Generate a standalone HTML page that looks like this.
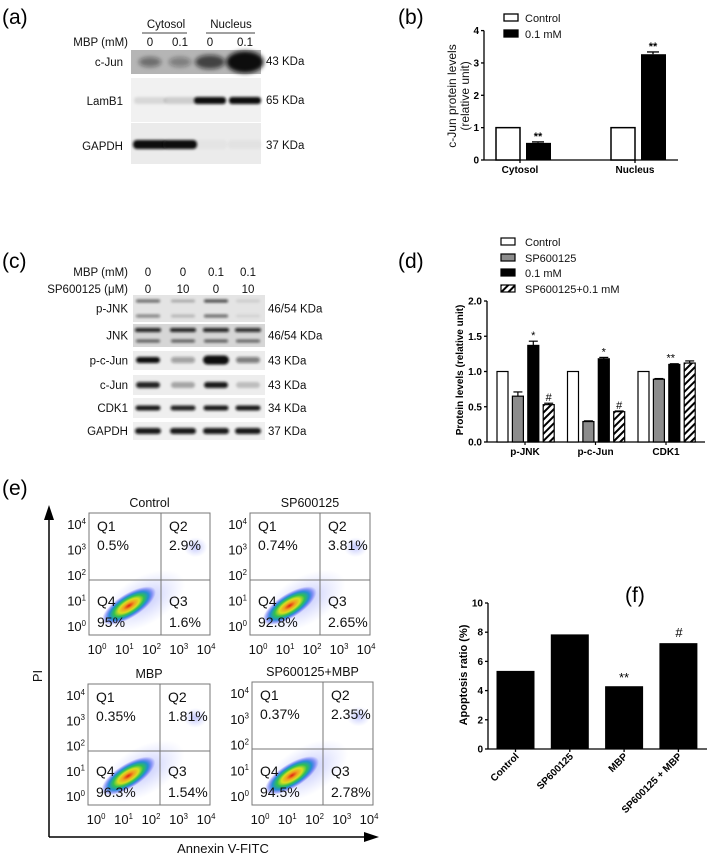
<!DOCTYPE html>
<html><head><meta charset="utf-8"><style>
html,body{margin:0;padding:0;background:#fff;}
svg{display:block;font-family:"Liberation Sans",Arial,sans-serif;}
</style></head><body>
<svg id="fig" width="709" height="855" viewBox="0 0 709 855" xmlns="http://www.w3.org/2000/svg">
<defs>
<filter id="blur1" x="-20%" y="-100%" width="140%" height="300%"><feGaussianBlur stdDeviation="1.2"/></filter>
<filter id="blur2" x="-20%" y="-100%" width="140%" height="300%"><feGaussianBlur stdDeviation="2.2"/></filter>
<pattern id="hatch" width="5" height="5" patternUnits="userSpaceOnUse" patternTransform="rotate(45)"><rect width="5" height="5" fill="#fff"/><rect width="2" height="5" fill="#000"/></pattern>
<radialGradient id="cloud" cx="50%" cy="50%" r="50%">
<stop offset="0" stop-color="#e02010"/><stop offset="0.2" stop-color="#f0a020"/><stop offset="0.38" stop-color="#d8e020"/><stop offset="0.55" stop-color="#30c050"/><stop offset="0.72" stop-color="#2090d0"/><stop offset="0.88" stop-color="#3040f0" stop-opacity="0.4"/><stop offset="1" stop-color="#4050ff" stop-opacity="0"/>
</radialGradient>
<radialGradient id="sparse" cx="50%" cy="50%" r="50%"><stop offset="0" stop-color="#3040f0" stop-opacity="0.3"/><stop offset="1" stop-color="#6070ff" stop-opacity="0"/></radialGradient>
</defs>
<g id="root"></g>
</svg>
<script>
// ---------- data ----------
const bCategories = ["Cytosol","Nucleus"];
const bControl = [1, 1];
const bTreated = [0.53, 3.27];
const bTreatedErr = [0.03, 0.07];
const bTicks = [0,1,2,3,4];

const dCategories = ["p-JNK","p-c-Jun","CDK1"];
const dControl = [1, 1, 1];
const dSP = [0.65, 0.29, 0.89];
const dSPErr = [0.06, 0.01, 0.01];
const dMBP = [1.37, 1.18, 1.10];
const dMBPErr = [0.06, 0.02, 0.01];
const dCombo = [0.53, 0.43, 1.12];
const dComboErr = [0.02, 0.01, 0.03];
const dTicks = [0,0.5,1.0,1.5,2.0];
const dTickLabels = ["0.0","0.5","1.0","1.5","2.0"];

const fCategories = ["Control","SP600125","MBP","SP600125 + MBP"];
const fValues = [5.35, 7.85, 4.3, 7.25];
const fTicks = [0,2,4,6,8,10];

const flowTitles = ["Control","SP600125","MBP","SP600125+MBP"];
const flowQ1 = ["0.5%","0.74%","0.35%","0.37%"];
const flowQ2 = ["2.9%","3.81%","1.81%","2.35%"];
const flowQ3 = ["1.6%","2.65%","1.54%","2.78%"];
const flowQ4 = ["95%","92.8%","96.3%","94.5%"];

const NS="http://www.w3.org/2000/svg";
const root=document.getElementById('root');
function el(tag,attrs,parent,text){const e=document.createElementNS(NS,tag);for(const k in attrs)e.setAttribute(k,attrs[k]);if(text!==undefined)e.textContent=text;(parent||root).appendChild(e);return e;}
function txt(x,y,s,size,opts,parent){const o=Object.assign({x:x,y:y,'font-size':size,fill:'#111'},opts||{});return el('text',o,parent,s);}
function line(x1,y1,x2,y2,w,parent){return el('line',{x1,y1,x2,y2,stroke:'#000','stroke-width':w||1},parent);}

// panel labels
[["(a)",2,24],["(b)",398,24],["(c)",2,268],["(d)",398,268],["(e)",2,495],["(f)",625,602]].forEach(p=>{
  const t=txt(p[1],p[2],p[0],21,{fill:'#000'});
  
  
});

// ---------- (a) blot ----------
const ga=el('g',{});


txt(166,28,"Cytosol",11.5,{'text-anchor':'middle'},ga);
txt(231,28,"Nucleus",11.5,{'text-anchor':'middle'},ga);
line(142,33,187,33,0.8,ga);line(206,33,255,33,0.8,ga);
txt(128,46,"MBP (mM)",11.5,{'text-anchor':'end'},ga);
const laneA=[150,180,210,245];
["0","0.1","0","0.1"].forEach((s,i)=>txt(laneA[i],46,s,11.5,{'text-anchor':'middle'},ga));
el('rect',{x:131,y:50,width:130,height:24,fill:'#b5b5b5'},ga);
el('rect',{x:131,y:78,width:130,height:44,fill:'#f1f1f1'},ga);
el('rect',{x:131,y:123,width:130,height:41,fill:'#ebebeb'},ga);
[[150,0.45,18,5],[180,0.35,18,5],[210,0.7,24,7],[245,1,30,11]].forEach(b=>el('ellipse',{cx:b[0],cy:62,rx:b[2]/1.6,ry:b[3],fill:'#111','fill-opacity':b[1],filter:'url(#blur2)'},ga));
[[150,0.1],[180,0.15],[210,1],[245,1]].forEach(b=>el('rect',{x:b[0]-16,y:97,width:32,height:7,rx:3,fill:'#111','fill-opacity':b[1],filter:'url(#blur1)'},ga));
[[150,1],[180,1],[210,0.03],[245,0.04]].forEach(b=>el('rect',{x:b[0]-17,y:140,width:34,height:9,rx:4,fill:'#111','fill-opacity':b[1],filter:'url(#blur1)'},ga));
[["c-Jun",66],["LamB1",105],["GAPDH",150]].forEach(r=>txt(123,r[1],r[0],11.5,{'text-anchor':'end'},ga));
[["43 KDa",65],["65 KDa",104],["37 KDa",149]].forEach(r=>txt(266,r[1],r[0],11.5,{},ga));

// ---------- (c) blot ----------
const gc=el('g',{});


const laneC=[148,183,216,248];
txt(128,276,"MBP (mM)",11.5,{'text-anchor':'end'},gc);
txt(128,293,"SP600125 (\u03bcM)",11.5,{'text-anchor':'end'},gc);
["0","0","0.1","0.1"].forEach((s,i)=>txt(laneC[i],276,s,11.5,{'text-anchor':'middle'},gc));
["0","10","0","10"].forEach((s,i)=>txt(laneC[i],293,s,11.5,{'text-anchor':'middle'},gc));
const rowsC=[["p-JNK",295,322,"#e4e4e4","46/54 KDa"],["JNK",324,347,"#d6d6d6","46/54 KDa"],["p-c-Jun",351,370,"#ececec","43 KDa"],["c-Jun",375,395,"#ededed","43 KDa"],["CDK1",398,418,"#efefef","34 KDa"],["GAPDH",422,440,"#f0f0f0","37 KDa"]];
rowsC.forEach(r=>{el('rect',{x:133,y:r[1],width:132,height:r[2]-r[1],fill:r[3]},gc);txt(128,(r[1]+r[2])/2+4,r[0],11.5,{'text-anchor':'end'},gc);txt(268,(r[1]+r[2])/2+4,r[4],11.5,{},gc);});
function band(g,cx,cy,w,h,op){el('rect',{x:cx-w/2,y:cy-h/2,width:w,height:h,rx:h/2,fill:'#111','fill-opacity':op,filter:'url(#blur1)'},g);}
[0.6,0.25,0.75,0.1].forEach((o,i)=>{band(gc,laneC[i],301,24,3,o);band(gc,laneC[i],316,24,3,o*0.8);});
[0.9,0.9,0.9,0.85].forEach((o,i)=>{band(gc,laneC[i],330,26,4,o);band(gc,laneC[i],341,24,3,o*0.7);});
[1,0.35,1,0.5].forEach((o,i)=>band(gc,laneC[i],360,i==2?26:24,i==2?9:6,o));
[0.9,0.3,0.95,0.2].forEach((o,i)=>band(gc,laneC[i],385,24,6,o));
[0.95,0.9,0.95,0.95].forEach((o,i)=>band(gc,laneC[i],408,25,5,o));
[0.95,0.95,0.95,0.95].forEach((o,i)=>band(gc,laneC[i],431,26,6,o));

function yAxis(g,x,yScale,ticks,labels,fs){
  line(x,yScale(ticks[0]),x,yScale(ticks[ticks.length-1]),1.3,g);
  ticks.forEach((t,i)=>{const y=yScale(t);line(x-3,y,x,y,1.3,g);txt(x-5,y+3.5,labels?labels[i]:String(t),fs||10,{'text-anchor':'end','font-weight':'bold',fill:'#000'},g);});
}

// ---------- (b) ----------
const gb=el('g',{});


const bY=v=>160-v*32.35;
const bX0=484, bGroup=[514,629];
yAxis(gb,bX0,bY,bTicks);
line(bX0,160,678,160,1.3,gb);
bCategories.forEach((c,i)=>{
  const cx=bGroup[i];
  const r1=el('rect',{x:cx-12-6,y:bY(bControl[i]),width:24,height:160-bY(bControl[i]),fill:'#fff',stroke:'#000','stroke-width':1.5},gb);
  
  
  const x2=cx+24;
  const r2=el('rect',{x:x2-12,y:bY(bTreated[i]),width:25,height:160-bY(bTreated[i]),fill:'#000'},gb);
  
  
  const ye=bY(bTreated[i]+bTreatedErr[i]);
  line(x2-6,ye,x2+6,ye,1.3,gb);line(x2,ye,x2,bY(bTreated[i]),1.3,gb);
  txt(x2,ye-2,"**",11,{'text-anchor':'middle','font-weight':'bold',fill:'#000'},gb);
  line(cx+6,160,cx+6,163,1.3,gb);
  txt(cx+6,173,c,10,{'text-anchor':'middle','font-weight':'bold',fill:'#000'},gb);
});
el('rect',{x:504,y:14,width:14,height:7,fill:'#fff',stroke:'#000','stroke-width':1.3},gb);
el('rect',{x:504,y:30,width:14,height:7,fill:'#000',stroke:'#000','stroke-width':1.3},gb);
txt(525,22,"Control",11,{},gb);txt(525,38,"0.1 mM",11,{},gb);
txt(0,0,"c-Jun protein levels",12,{transform:'translate(456,96) rotate(-90)','text-anchor':'middle'},gb);
txt(0,0,"(relative unit)",12,{transform:'translate(469,96) rotate(-90)','text-anchor':'middle'},gb);

// ---------- (d) ----------
const gd=el('g',{});


const dY=v=>442-v*70.5;
const dX0=487;
yAxis(gd,dX0,dY,dTicks,dTickLabels);
line(dX0,442,705,442,1.3,gd);
const dSeries=[[dControl,null,'#fff','control'],[dSP,dSPErr,'#8c8c8c','sp600125'],[dMBP,dMBPErr,'#000','mbp'],[dCombo,dComboErr,'url(#hatch)','combo']];
const dMarks=[[],[],["*","*","**"],["#","#",""]];
dCategories.forEach((c,i)=>{
  const gx=497+i*70.5;
  dSeries.forEach((s,j)=>{
    const x=gx+j*15.4, v=s[0][i];
    const r=el('rect',{x:x,y:dY(v),width:11,height:442-dY(v),fill:s[2],stroke:'#000','stroke-width':1.2},gd);
    
    
    let top=dY(v);
    if(s[1]){const ye=dY(v+s[1][i]);line(x+1,ye,x+10,ye,1.2,gd);line(x+5.5,ye,x+5.5,dY(v),1.2,gd);top=ye;}
    const m=dMarks[j][i];
    if(m){const mx = m=="**" ? x+2 : x+5.5;txt(mx,top-2,m,11,{'text-anchor':'middle',fill:'#000'},gd);}
  });
  const cx=gx+28;
  line(cx,442,cx,445,1.2,gd);
  txt(cx,455,c,10,{'text-anchor':'middle','font-weight':'bold',fill:'#000'},gd);
});
[["Control",'#fff',242],["SP600125",'#8c8c8c',258],["0.1 mM",'#000',273],["SP600125+0.1 mM",'url(#hatch)',289]].forEach(l=>{
  el('rect',{x:501,y:l[2]-4,width:14,height:7,fill:l[1],stroke:'#000','stroke-width':1.2},gd);
  txt(525,l[2]+4,l[0],11,{},gd);
});
txt(0,0,"Protein levels (relative unit)",10,{transform:'translate(463,370) rotate(-90)','text-anchor':'middle','font-weight':'bold',fill:'#000'},gd);

// ---------- (f) ----------
const gf=el('g',{});


const fY=v=>749-v*14.6;
const fX0=488;
yAxis(gf,fX0,fY,fTicks);
line(fX0,749,707,749,1.3,gf);
fCategories.forEach((c,i)=>{
  const cx=515.5+i*54.3;
  const r=el('rect',{x:cx-19,y:fY(fValues[i]),width:38,height:749-fY(fValues[i]),fill:'#000'},gf);
  
  
  line(cx,749,cx,752,1.3,gf);
  txt(0,0,c,10,{transform:'translate('+(cx+4)+',757) rotate(-45)','text-anchor':'end','font-weight':'bold',fill:'#000'},gf);
});
txt(624,fY(fValues[2])-4,"**",13,{'text-anchor':'middle',fill:'#000'},gf);
txt(679,fY(fValues[3])-6,"#",13,{'text-anchor':'middle',fill:'#000'},gf);
txt(0,0,"Apoptosis ratio (%)",11,{transform:'translate(467,675) rotate(-90)','text-anchor':'middle','font-weight':'bold',fill:'#000'},gf);

// ---------- (e) flow plots ----------
const ge=el('g',{});


const plots=[[89,513,121,122,161,580],[250,513,120,122,320,580],[88,684,122,121,160,751],[252,682,121,123,323,749]];
function sup(g,x,y,base,exp,fs,anchor){const t=txt(x,y,'',fs,{'text-anchor':anchor||'start'},g);el('tspan',{},t,base);el('tspan',{'font-size':fs*0.6,dy:-fs*0.4},t,exp);return t;}
plots.forEach((p,i)=>{
  const [x,y,w,h,gx,gy]=p;
  const g=el('g',{},ge);
  
  
  el('ellipse',{cx:x+w*0.88,cy:y+h*0.28,rx:12,ry:10,fill:'url(#sparse)'},g);
  el('ellipse',{cx:x+w*0.45,cy:y+h*0.72,rx:46,ry:24,fill:'url(#sparse)',transform:'rotate(-30 '+(x+w*0.45)+' '+(y+h*0.72)+')'},g);
  const cx=x+w*0.33, cy=y+h*0.76;
  el('ellipse',{cx:cx,cy:cy,rx:31,ry:12,fill:'url(#cloud)',transform:'rotate(-32 '+cx+' '+cy+')'},g);
  el('rect',{x:x,y:y,width:w,height:h,fill:'none',stroke:'#777','stroke-width':1},g);
  line(gx,y,gx,y+h,1,g).setAttribute('stroke','#777');
  line(x,gy,x+w,gy,1,g).setAttribute('stroke','#777');
  txt(x+w/2,y-6,flowTitles[i],12.5,{'text-anchor':'middle'},g);
  txt(x+8,y+18,"Q1",14,{},g);txt(x+8,y+37,flowQ1[i],14,{},g);
  txt(gx+8,y+18,"Q2",14,{},g);txt(gx+8,y+37,flowQ2[i],14,{},g);
  txt(x+8,y+h-29,"Q4",14,{},g);txt(x+8,y+h-8,flowQ4[i],14,{},g);
  txt(gx+8,y+h-29,"Q3",14,{},g);txt(gx+8,y+h-8,flowQ3[i],14,{},g);
  [4,3,2,1,0].forEach((e,k)=>{const ty=y+12+k*(h-20)/4+4;sup(g,x-3,ty,"10",String(e),13,'end');});
  [0,1,2,3,4].forEach((e,k)=>{const tx=x+8+k*(w-12)/4;sup(g,tx,y+h+19,"10",String(e),13,'middle');});
});
line(49,837,49,515,1.5,ge);
el('polygon',{points:'49,505 44,520 54,520',fill:'#000'},ge);
line(49,837,368,837,1.5,ge);
el('polygon',{points:'379,837 364,832 364,842',fill:'#000'},ge);
txt(0,0,"PI",13,{transform:'translate(42,676) rotate(-90)','text-anchor':'middle'},ge);
txt(223,853,"Annexin V-FITC",13,{'text-anchor':'middle'},ge);
</script>
</body></html>
